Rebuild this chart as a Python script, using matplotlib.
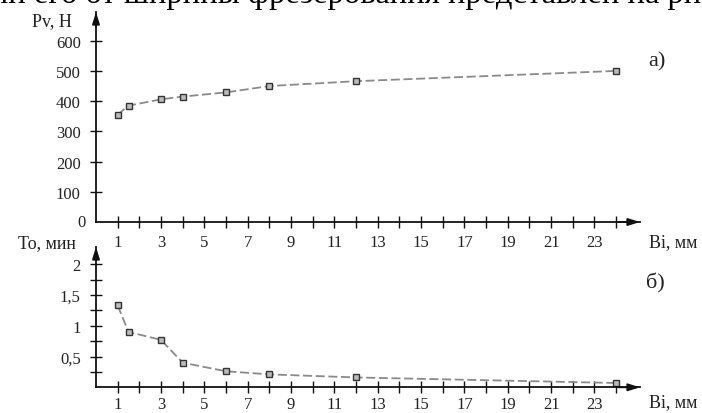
import matplotlib
matplotlib.use("Agg")
import matplotlib.pyplot as plt
from matplotlib.ticker import FixedLocator

plt.rcParams['font.family'] = ['Liberation Serif', 'DejaVu Serif']

# Data
width_mm = [1, 1.5, 3, 4, 6, 8, 12, 24]
force_N = [355, 385, 406, 415, 429, 450, 466, 500]
time_min = [1.33, 0.90, 0.77, 0.40, 0.26, 0.21, 0.16, 0.07]

x_ticks = list(range(1, 25))
x_labels = [str(v) if v % 2 == 1 else "" for v in x_ticks]
top_yticks = [100, 200, 300, 400, 500, 600]
top_ylabels = ["100", "200", "300", "400", "500", "600"]
bot_yticks = [0.25, 0.5, 0.75, 1.0, 1.25, 1.5, 1.75, 2.0]
bot_ylabels = ["", "0,5", "", "1", "", "1,5", "", "2"]

fig = plt.figure(figsize=(7.02, 4.14), dpi=100)

ax1 = fig.add_axes([96/702, (414-223)/414, 544/702, 210/414])
ax2 = fig.add_axes([96/702, (414-388.3)/414, 544/702, 140.3/414])

text_col = "#222222"
line_col = "#8a8a8a"

def style(ax, xmax, ymax, yt, yl, xpad):
    ax.set_xlim(0, xmax)
    ax.set_ylim(0, ymax)
    for s in ("top", "right"):
        ax.spines[s].set_visible(False)
    for s in ("left", "bottom"):
        ax.spines[s].set_linewidth(1.3)
        ax.spines[s].set_color("#111111")
    ax.xaxis.set_major_locator(FixedLocator(x_ticks))
    ax.set_xticklabels(x_labels)
    ax.yaxis.set_major_locator(FixedLocator(yt))
    ax.set_yticklabels(yl)
    ax.tick_params(direction="inout", length=8, width=1.0, color="#111111",
                   labelsize=12, labelcolor=text_col)
    ax.tick_params(axis="y", pad=7)
    ax.tick_params(axis="x", pad=xpad)
    ax.patch.set_alpha(0)
    # arrows
    ax.annotate("", xy=(1.0, 0), xycoords="axes fraction", xytext=(0.96, 0),
                arrowprops=dict(arrowstyle="-|>,head_length=0.7,head_width=0.22",
                                color="#111111", lw=1.3, shrinkA=0, shrinkB=0))
    ax.annotate("", xy=(0, 1.0), xycoords="axes fraction", xytext=(0, 0.93),
                arrowprops=dict(arrowstyle="-|>,head_length=0.7,head_width=0.22",
                                color="#111111", lw=1.3, shrinkA=0, shrinkB=0))

style(ax1, 25.1, 695, top_yticks, top_ylabels, 5)
style(ax2, 25.1, 2.28, bot_yticks, bot_ylabels, 2)

for ax, ys in ((ax1, force_N), (ax2, time_min)):
    ax.plot(width_mm, ys, linestyle=(0, (5, 2)), color=line_col, lw=1.3,
            marker="s", markersize=4, markerfacecolor="#bbbbbb",
            markeredgecolor="#333333", markeredgewidth=1.0, clip_on=False)

# "0" label at origin of top panel
ax1.text(-0.5, 0, "0", ha="right", va="center", fontsize=12, color=text_col)

# Axis titles
fig.text(52/702, 1 - 22/414, "Pv, Н", ha="center", va="center", fontsize=13, color=text_col)
fig.text(47/702, 1 - 244/414, "To, мин", ha="center", va="center", fontsize=13, color=text_col)
fig.text(673/702, 1 - 243/414, "Bi, мм", ha="center", va="center", fontsize=13, color=text_col)
fig.text(673/702, 1 - 403/414, "Bi, мм", ha="center", va="center", fontsize=13, color=text_col)
fig.text(657/702, 1 - 62/414, "а)", ha="center", va="center", fontsize=16, color=text_col)
fig.text(655/702, 1 - 283/414, "б)", ha="center", va="center", fontsize=16, color=text_col)

# Cropped body text at the very top (cut off in the reference as well)
fig.text(-8/702, 1 + 6/414, "ли его от ширины фрезерования представлен на рисунке",
         ha="left", va="center", fontsize=23.5, color="#000000")

fig.savefig("out.png", dpi=100)
